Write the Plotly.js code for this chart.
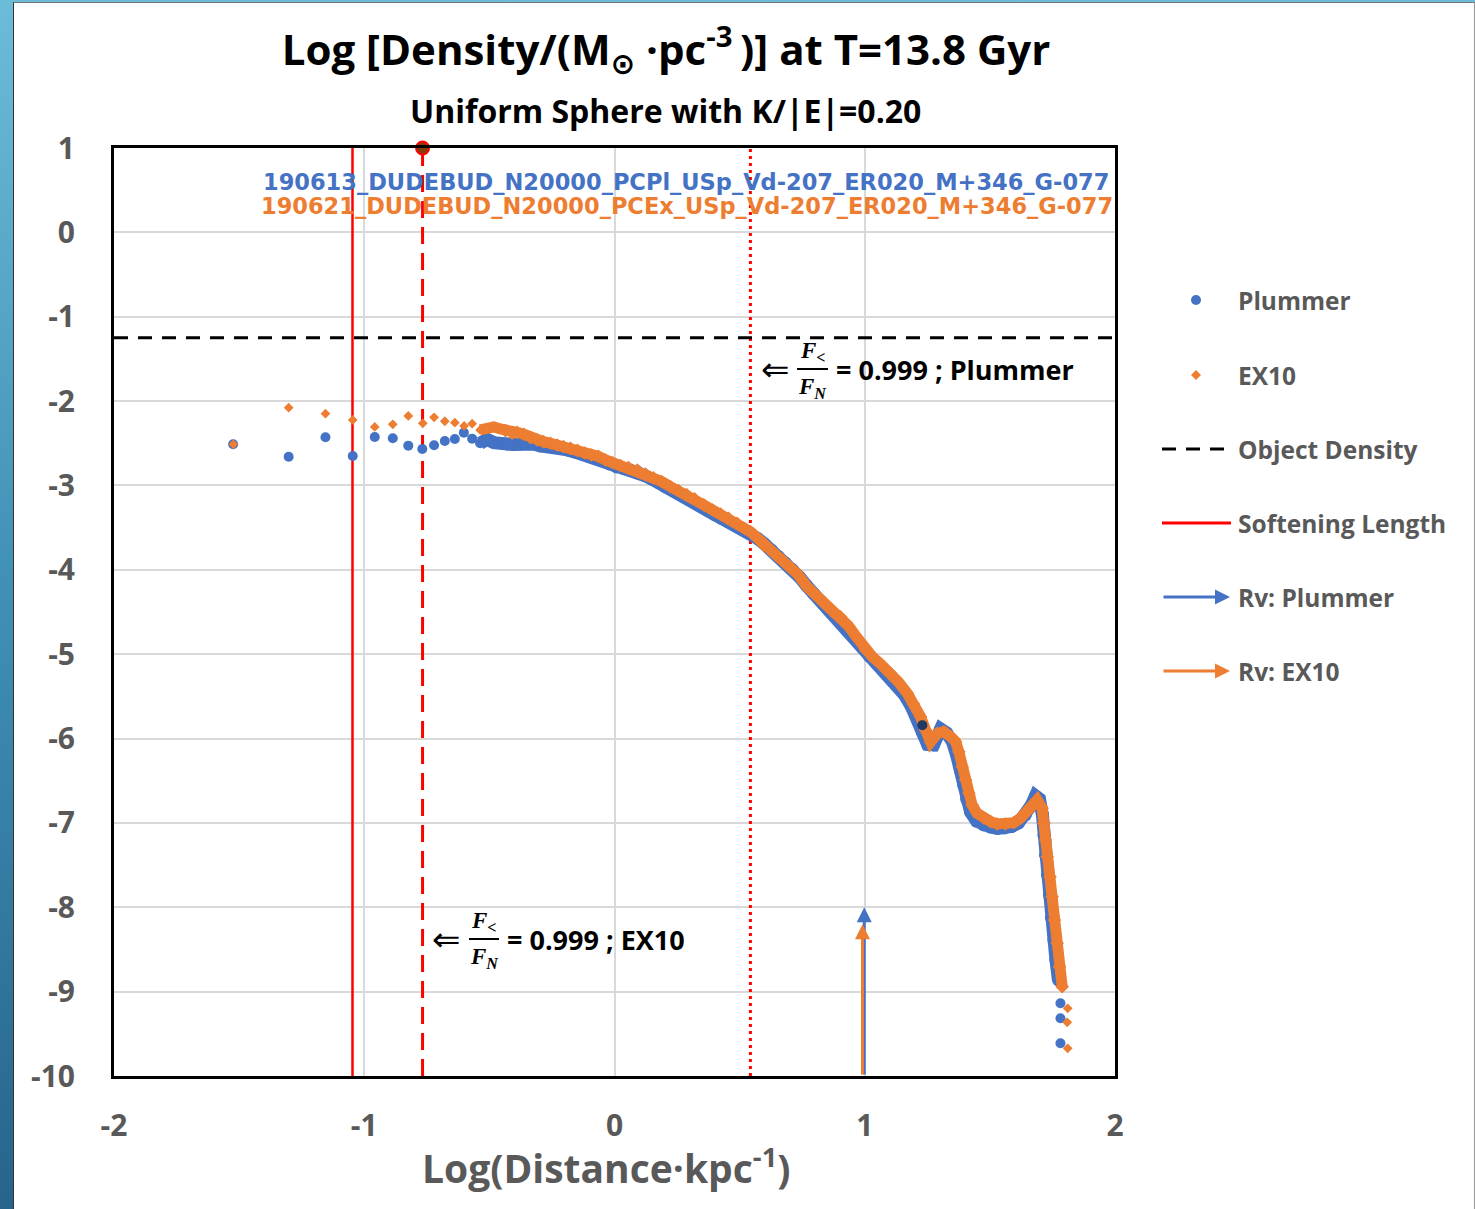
<!DOCTYPE html>
<html>
<head>
<meta charset="utf-8">
<script src="https://cdn.plot.ly/plotly-3.0.1.min.js"></script>
<style>
  html, body { margin:0; padding:0; width:1475px; height:1209px; overflow:hidden;
    background: linear-gradient(180deg, #6bbcd8 0%, #3f8fb5 50%, #27648c 100%); }
  #chart { position:absolute; left:13px; top:2px; width:1460px; height:1206px;
    background:#ffffff; border-left:1px solid #333; border-top:1px solid #777; border-right:1px solid #999; }
</style>
</head>
<body>
<div id="chart"></div>
<script>
// ---------------- DATA ----------------
// Plummer (blue circles): log distance / log density
const plummerX = [-1.524,-1.302,-1.155,-1.046,-0.958,-0.886,-0.824,-0.768,-0.721,-0.678,-0.638,-0.602,-0.569,-0.537,-0.509,-0.482,-0.456,-0.428,-0.404,-0.376,-0.348,-0.324,-0.296,-0.268,-0.244,-0.216,-0.188,-0.160,-0.132,-0.104,-0.076,-0.048,-0.020,0.008,0.036,0.064,0.092,0.120,0.148,0.176,0.204,0.232,0.260,0.288,0.316,0.344,0.372,0.400,0.428,0.456,0.484,0.512,0.544,0.571,0.599,0.627,0.655,0.683,0.711,0.739,0.767,0.795,0.823,0.851,0.879,0.907,0.935,0.963,0.991,1.019,1.047,1.075,1.103,1.131,1.159,1.187,1.211,1.231,1.251,1.275,1.303,1.327,1.351,1.367,1.383,1.395,1.407,1.423,1.447,1.475,1.503,1.531,1.558,1.586,1.614,1.642,1.666,1.682,1.698,1.710,1.716,1.722,1.730,1.738,1.746,1.756,1.764,1.774,1.782,1.782,1.782];
const plummerY = [-2.512,-2.659,-2.429,-2.651,-2.425,-2.441,-2.528,-2.568,-2.524,-2.473,-2.449,-2.374,-2.445,-2.500,-2.453,-2.493,-2.485,-2.508,-2.514,-2.508,-2.502,-2.508,-2.532,-2.538,-2.540,-2.556,-2.579,-2.603,-2.627,-2.651,-2.680,-2.710,-2.745,-2.781,-2.799,-2.817,-2.840,-2.882,-2.923,-2.965,-3.018,-3.060,-3.101,-3.137,-3.190,-3.243,-3.297,-3.344,-3.391,-3.433,-3.474,-3.522,-3.569,-3.628,-3.694,-3.765,-3.842,-3.919,-3.996,-4.085,-4.186,-4.280,-4.369,-4.452,-4.529,-4.606,-4.701,-4.814,-4.926,-5.027,-5.110,-5.193,-5.270,-5.365,-5.484,-5.626,-5.768,-5.934,-6.070,-6.076,-5.887,-5.934,-6.041,-6.195,-6.385,-6.551,-6.717,-6.871,-6.978,-7.025,-7.048,-7.066,-7.060,-7.043,-7.001,-6.906,-6.788,-6.681,-6.717,-6.906,-7.143,-7.380,-7.617,-7.854,-8.127,-8.388,-8.625,-8.862,-9.138,-9.316,-9.612];

// EX10 (orange diamonds)
const ex10X = [-1.523,-1.302,-1.155,-1.046,-0.958,-0.886,-0.824,-0.766,-0.721,-0.678,-0.638,-0.601,-0.569,-0.537,-0.509,-0.482,-0.456,-0.436,-0.409,-0.389,-0.362,-0.336,-0.309,-0.284,-0.256,-0.229,-0.204,-0.176,-0.148,-0.120,-0.092,-0.064,-0.036,-0.008,0.024,0.056,0.091,0.124,0.156,0.188,0.224,0.256,0.288,0.320,0.357,0.392,0.424,0.456,0.490,0.520,0.544,0.570,0.595,0.623,0.647,0.675,0.703,0.731,0.770,0.803,0.835,0.867,0.903,0.935,0.967,1.003,1.031,1.063,1.103,1.135,1.170,1.195,1.223,1.243,1.263,1.290,1.316,1.343,1.363,1.376,1.389,1.403,1.416,1.429,1.449,1.476,1.503,1.529,1.562,1.596,1.622,1.649,1.676,1.689,1.709,1.716,1.722,1.729,1.740,1.749,1.758,1.769,1.778,1.789,1.811,1.809,1.811];
const ex10Y = [-2.512,-2.078,-2.149,-2.224,-2.307,-2.275,-2.176,-2.263,-2.192,-2.239,-2.256,-2.295,-2.268,-2.342,-2.322,-2.307,-2.331,-2.351,-2.381,-2.370,-2.393,-2.434,-2.461,-2.481,-2.500,-2.520,-2.540,-2.559,-2.585,-2.615,-2.639,-2.656,-2.698,-2.728,-2.763,-2.787,-2.817,-2.864,-2.911,-2.953,-3.015,-3.060,-3.107,-3.160,-3.231,-3.291,-3.338,-3.391,-3.448,-3.510,-3.551,-3.620,-3.706,-3.765,-3.832,-3.895,-3.972,-4.049,-4.200,-4.292,-4.393,-4.482,-4.556,-4.666,-4.796,-4.950,-5.033,-5.116,-5.226,-5.330,-5.464,-5.590,-5.741,-5.899,-6.041,-5.938,-5.919,-5.978,-6.037,-6.156,-6.334,-6.491,-6.649,-6.788,-6.886,-6.945,-6.985,-7.013,-7.013,-6.997,-6.945,-6.867,-6.788,-6.728,-6.827,-7.005,-7.203,-7.400,-7.637,-7.875,-8.151,-8.427,-8.704,-8.941,-9.198,-9.364,-9.672];

// Highlighted point and top marker
const highlightX = [1.230];
const highlightY = [-5.841];
const topMarkX = [-0.767];
const topMarkY = [1.0];

// Reference lines
const softeningLengthX = [-1.047];   // solid red
const ratioEX10X = [-0.767];         // dashed red, F</FN = 0.999 EX10
const ratioPlummerX = [0.543];       // dotted red, F</FN = 0.999 Plummer
const objectDensityY = [-1.25];      // dashed black

// Virial radius arrows
const rvNames = ['Rv: Plummer', 'Rv: EX10'];
const rvX = [0.998, 0.991];
const rvY = [-8.0, -8.2];

// Axes
const xRange = [-2, 2];
const yRange = [-10, 1];
const xTickVals = [-2, -1, 0, 1, 2];
const xTickText = ['-2', '-1', '0', '1', '2'];
const yTickVals = [1, 0, -1, -2, -3, -4, -5, -6, -7, -8, -9, -10];
const yTickText = ['1', '0', '-1', '-2', '-3', '-4', '-5', '-6', '-7', '-8', '-9', '-10'];

const legendLabels = ['Plummer', 'EX10', 'Object Density', 'Softening Length', 'Rv: Plummer', 'Rv: EX10'];
const runLabels = ['190613_DUDEBUD_N20000_PCPl_USp_Vd-207_ER020_M+346_G-077',
                   '190621_DUDEBUD_N20000_PCEx_USp_Vd-207_ER020_M+346_G-077'];
const xTitle = 'Log(Distance·kpc<sup>-1</sup>)';

// ---------------- STYLE ----------------
const BLUE = '#4472C4', ORANGE = '#ED7D31', RED = '#FF0000', GRAY = '#595959';
const FONT = 'Open Sans, DejaVu Sans, sans-serif';

// page pixel -> paper coordinate helpers (plot area 114..1115 x 148..1076)
const px = v => (v - 114) / 1001;
const py = v => (1076 - v) / 928;

function band(xs, ys, lo, hi) {
  const bx = [], by = [];
  xs.forEach((x, i) => { if (x >= lo && x <= hi) { bx.push(x); by.push(ys[i]); } });
  return {x: bx, y: by};
}
const pBand = band(plummerX, plummerY, -0.54, 1.776);
const eBand = band(ex10X, ex10Y, -0.54, 1.79);
// marker sizes: bigger inside the dense band to give it a rough edge
const pSizes = plummerX.map((x, i) => (x > -0.45 && i < plummerX.length - 3) ? 13 : 10);
const eSizes = ex10X.map((x, i) => (x > -0.45 && i < ex10X.length - 3) ? 10.5 : 7.5);

const traces = [
  // reference lines
  {x: [softeningLengthX[0], softeningLengthX[0]], y: yRange, mode: 'lines',
   line: {color: RED, width: 2.5}, showlegend: false, hoverinfo: 'skip'},
  {x: [ratioEX10X[0], ratioEX10X[0]], y: yRange, mode: 'lines',
   line: {color: RED, width: 3, dash: '17px,9px'}, showlegend: false, hoverinfo: 'skip'},
  {x: [ratioPlummerX[0], ratioPlummerX[0]], y: yRange, mode: 'lines',
   line: {color: RED, width: 3, dash: '3px,4px'}, showlegend: false, hoverinfo: 'skip'},
  {x: xRange, y: [objectDensityY[0], objectDensityY[0]], mode: 'lines',
   line: {color: '#000000', width: 3, dash: '14px,10px'}, showlegend: false, hoverinfo: 'skip'},
  // Plummer
  {x: pBand.x, y: pBand.y, mode: 'lines', line: {color: BLUE, width: 13},
   showlegend: false, hoverinfo: 'skip'},
  {x: plummerX, y: plummerY, mode: 'markers', name: 'Plummer',
   marker: {color: BLUE, size: pSizes, symbol: 'circle', opacity: 1, line: {width: 0}}, showlegend: false},
  // EX10
  {x: eBand.x, y: eBand.y, mode: 'lines', line: {color: ORANGE, width: 11},
   showlegend: false, hoverinfo: 'skip'},
  {x: ex10X, y: ex10Y, mode: 'markers', name: 'EX10',
   marker: {color: ORANGE, size: eSizes, symbol: 'diamond', opacity: 1, line: {width: 0}}, showlegend: false},
  // highlight
  {x: highlightX, y: highlightY, mode: 'markers', marker: {color: '#1F3864', size: 10},
   showlegend: false, hoverinfo: 'skip'},
  {x: topMarkX, y: topMarkY, mode: 'markers', cliponaxis: false,
   marker: {color: '#843C0C', size: 13, line: {color: RED, width: 2}}, showlegend: false, hoverinfo: 'skip'}
];

const annotations = [];
const shapes = [];

// Rv arrows (blue first, orange on top)
const rvColors = [BLUE, ORANGE];
rvX.forEach((x, i) => {
  annotations.push({x: x, y: rvY[i], xref: 'x', yref: 'y', ax: x, ay: yRange[0], axref: 'x', ayref: 'y',
    text: '', showarrow: true, arrowhead: 2, arrowsize: 1, arrowwidth: 3, arrowcolor: rvColors[i],
    standoff: 0, startstandoff: 0});
});

// Run labels
annotations.push({xref: 'paper', yref: 'paper', x: px(1111), y: py(182), xanchor: 'right', yanchor: 'middle',
  text: runLabels[0], showarrow: false, font: {family: 'DejaVu Sans', size: 22.5, color: BLUE, weight: 'bold'}});
annotations.push({xref: 'paper', yref: 'paper', x: px(1115), y: py(206), xanchor: 'right', yanchor: 'middle',
  text: runLabels[1], showarrow: false, font: {family: 'DejaVu Sans', size: 22.5, color: ORANGE, weight: 'bold'}});

// Subtitle
annotations.push({xref: 'paper', yref: 'paper', x: px(665), y: py(110), xanchor: 'center', yanchor: 'middle',
  text: 'Uniform Sphere with K/|E|=0.20', showarrow: false,
  font: {family: FONT, size: 32, color: '#000000', weight: 'bold'}});

// X axis title (placed as annotation for exact position)
annotations.push({xref: 'paper', yref: 'paper', x: px(606), y: py(1166), xanchor: 'center', yanchor: 'middle',
  text: xTitle, showarrow: false, font: {family: FONT, size: 39, color: GRAY, weight: 'bold'}});

// Fraction annotations
function fraction(arrowCx, cy, fracL, fracR, textL, label) {
  const fx = (fracL + fracR) / 2;
  annotations.push({xref: 'paper', yref: 'paper', x: px(arrowCx), y: py(cy), xanchor: 'center', yanchor: 'middle',
    text: '⇐', showarrow: false, font: {family: 'DejaVu Sans', size: 34, color: '#000'}});
  annotations.push({xref: 'paper', yref: 'paper', x: px(fx), y: py(cy - 17), xanchor: 'center', yanchor: 'middle',
    text: '<i>F</i><sub>&lt;</sub>', showarrow: false,
    font: {family: 'Liberation Serif, DejaVu Serif, serif', size: 23, color: '#000', weight: 'bold'}});
  annotations.push({xref: 'paper', yref: 'paper', x: px(fx), y: py(cy + 19), xanchor: 'center', yanchor: 'middle',
    text: '<i>F<sub>N</sub></i>', showarrow: false,
    font: {family: 'Liberation Serif, DejaVu Serif, serif', size: 23, color: '#000', weight: 'bold'}});
  shapes.push({type: 'line', xref: 'paper', yref: 'paper', x0: px(fracL), x1: px(fracR), y0: py(cy), y1: py(cy),
    line: {color: '#000', width: 2}});
  annotations.push({xref: 'paper', yref: 'paper', x: px(textL), y: py(cy), xanchor: 'left', yanchor: 'middle',
    text: label, showarrow: false, font: {family: FONT, size: 27, color: '#000', weight: 'bold'}});
}
fraction(775, 369, 797, 828, 834, '= 0.999 ; Plummer');
fraction(446, 939, 469, 499, 505, '= 0.999 ; EX10');

// Manual legend
const legY = [300, 375, 449, 523, 597, 671];
legendLabels.forEach((t, i) => {
  annotations.push({xref: 'paper', yref: 'paper', x: px(1236), y: py(legY[i]), xanchor: 'left', yanchor: 'middle',
    text: t, showarrow: false, font: {family: FONT, size: 24.5, color: GRAY, weight: 'bold'}});
});
// Plummer dot
shapes.push({type: 'circle', xref: 'paper', yref: 'paper', x0: px(1191), x1: px(1201), y0: py(305), y1: py(295),
  fillcolor: BLUE, line: {width: 0}});
// EX10 diamond
shapes.push({type: 'path', xref: 'paper', yref: 'paper',
  path: `M ${px(1196)} ${py(370)} L ${px(1201)} ${py(375)} L ${px(1196)} ${py(380)} L ${px(1191)} ${py(375)} Z`,
  fillcolor: ORANGE, line: {width: 0}});
// Object density
shapes.push({type: 'line', xref: 'paper', yref: 'paper', x0: px(1162), x1: px(1231), y0: py(449), y1: py(449),
  line: {color: '#000', width: 3, dash: '14px,10px'}});
// Softening length
shapes.push({type: 'line', xref: 'paper', yref: 'paper', x0: px(1162), x1: px(1231), y0: py(523), y1: py(523),
  line: {color: RED, width: 3}});
// Rv arrows in legend
[BLUE, ORANGE].forEach((c, i) => {
  annotations.push({xref: 'paper', yref: 'paper', x: px(1230), y: py(legY[4 + i]), ax: -68, ay: 0,
    text: '', showarrow: true, arrowhead: 2, arrowsize: 1, arrowwidth: 3, arrowcolor: c, standoff: 0});
});

const axisCommon = {
  showgrid: true, gridcolor: '#d9d9d9', gridwidth: 2, zeroline: false,
  showline: true, linecolor: '#000000', linewidth: 3, mirror: true, ticks: '',
  tickfont: {family: FONT, size: 30, color: GRAY, weight: 'bold'}
};

const layout = {
  width: 1460, height: 1206,
  margin: {l: 100, r: 359, t: 145, b: 133},
  paper_bgcolor: '#ffffff', plot_bgcolor: '#ffffff',
  showlegend: false,
  title: {text: 'Log [Density/(M<sub>⊙</sub> ·pc<sup>-3 </sup>)] at T=13.8 Gyr',
    x: (666 - 14) / 1460, xanchor: 'center', y: 1 - (50 - 3) / 1206, yanchor: 'middle',
    font: {family: FONT, size: 42, color: '#000000', weight: 'bold'}},
  xaxis: Object.assign({}, axisCommon, {range: xRange, tickvals: xTickVals, ticktext: xTickText,
    ticklabelstandoff: 21}),
  yaxis: Object.assign({}, axisCommon, {range: yRange, tickvals: yTickVals, ticktext: yTickText,
    ticklabelstandoff: 30}),
  annotations: annotations,
  shapes: shapes
};

Plotly.newPlot('chart', traces, layout, {displayModeBar: false, staticPlot: true});
</script>
</body>
</html>
